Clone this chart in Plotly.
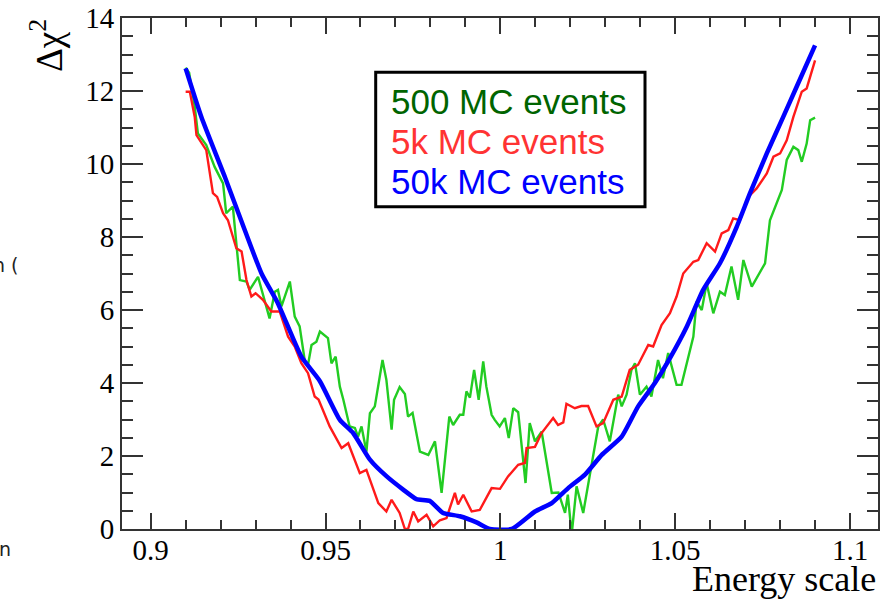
import plotly.graph_objects as go

# ---- data ----
x_500 = [0.910, 0.911, 0.9126, 0.9135, 0.9159, 0.9183, 0.9207, 0.9216, 0.9235, 0.9255,
         0.9274, 0.9283, 0.9307, 0.9321, 0.9340, 0.9355, 0.9364, 0.9374, 0.9398, 0.9412,
         0.9426, 0.9441, 0.9450, 0.9460, 0.9474, 0.9484, 0.9507, 0.9517, 0.9529, 0.9541,
         0.9551, 0.9569, 0.9584, 0.9593, 0.9603, 0.9617, 0.9627, 0.9641, 0.9663, 0.9674,
         0.9689, 0.9696, 0.9712, 0.9727, 0.9736, 0.9749, 0.9770, 0.9794, 0.9813, 0.9832,
         0.9854, 0.9865, 0.9884, 0.9894, 0.9903, 0.9913, 0.9925, 0.9938, 0.9951, 0.9960,
         0.9975, 0.9984, 0.9998, 1.0013, 1.0024, 1.0037, 1.0051, 1.0072, 1.0084, 1.0099,
         1.0118, 1.0147, 1.0166, 1.0185, 1.0193, 1.0204, 1.0218, 1.0237, 1.0261, 1.0280,
         1.0294, 1.0313, 1.0337, 1.0347, 1.0361, 1.0375, 1.0385, 1.0399, 1.0418, 1.0432,
         1.0451, 1.0465, 1.0480, 1.0504, 1.0518, 1.0552, 1.0561, 1.0576, 1.0590, 1.0609,
         1.0628, 1.0642, 1.0661, 1.0680, 1.0695, 1.0719, 1.0757, 1.0771, 1.0805, 1.0819,
         1.0838, 1.0852, 1.0862, 1.0876, 1.0886, 1.0900]
y_500 = [12.64, 12.5, 11.57, 10.84, 10.52, 9.92, 9.47, 8.65, 8.83, 6.82,
         6.78, 6.55, 6.91, 6.41, 5.77, 6.50, 6.55, 6.10, 6.78, 5.82,
         5.55, 4.59, 4.50, 5.04, 5.13, 5.41, 5.23, 4.54, 4.72, 3.90,
         3.54, 2.81, 2.77, 2.53, 2.81, 2.12, 3.17, 3.36, 4.63, 4.09,
         2.72, 3.54, 3.89, 3.70, 3.08, 3.18, 2.12, 2.03, 2.40, 0.99,
         3.08, 2.85, 3.13, 3.13, 3.77, 3.60, 4.36, 3.54, 4.59, 3.90,
         3.13, 2.99, 2.81, 3.04, 2.49, 3.31, 3.20, 1.26, 2.90, 2.40,
         2.67, 0.99, 1.00, 0.44, 0.94, -0.15, 1.17, 0.44, 1.71, 2.81,
         3.00, 2.40, 3.68, 3.36, 3.68, 4.36, 4.54, 3.68, 3.90, 3.63,
         4.63, 4.13, 4.82, 3.95, 3.95, 5.27, 6.23, 6.00, 6.73, 5.91,
         6.50, 6.41, 7.19, 6.28, 7.37, 6.64, 7.28, 8.46, 9.29, 10.11,
         10.47, 10.38, 10.06, 10.56, 11.20, 11.27]

x_5k = [0.910, 0.9112, 0.9126, 0.9131, 0.9159, 0.9178, 0.9190, 0.9207, 0.9221, 0.9245,
        0.9260, 0.9274, 0.9288, 0.9300, 0.9321, 0.9345, 0.9369, 0.9393, 0.9412, 0.9431,
        0.9450, 0.9469, 0.9480, 0.9498, 0.9512, 0.9546, 0.9565, 0.9598, 0.9617, 0.9651,
        0.9674, 0.9689, 0.9712, 0.9727, 0.9736, 0.9751, 0.9765, 0.9789, 0.9808, 0.9827,
        0.9846, 0.9870, 0.9879, 0.9894, 0.9918, 0.9941, 0.9975, 0.9999, 1.0022, 1.0051,
        1.0070, 1.0075, 1.0099, 1.0118, 1.0137, 1.0151, 1.0165, 1.0180, 1.0189, 1.0213,
        1.0232, 1.0251, 1.0275, 1.0294, 1.0323, 1.0347, 1.0370, 1.0394, 1.0423, 1.0437,
        1.0461, 1.0485, 1.0504, 1.0523, 1.0552, 1.0566, 1.0590, 1.0614, 1.0633, 1.0652,
        1.0666, 1.0685, 1.0709, 1.0733, 1.0762, 1.0781, 1.0800, 1.0819, 1.0838, 1.0862,
        1.0876, 1.0886, 1.0900]
y_5k = [11.98, 11.98, 11.29, 10.79, 10.38, 9.20, 9.10, 8.65, 8.46, 7.69,
        7.60, 6.82, 6.37, 6.46, 6.28, 5.96, 5.96, 5.27, 5.00, 4.54,
        4.27, 3.63, 3.55, 3.13, 2.81, 2.22, 2.35, 1.53, 1.62, 0.71,
        0.48, 0.80, 0.44, 0.00, 0.00, 0.48, 0.21, 0.39, 0.07, 0.24,
        0.30, 0.99, 0.67, 0.94, 0.48, 0.52, 1.12, 1.10, 1.44, 1.76,
        1.81, 2.22, 2.25, 2.63, 2.85, 3.04, 2.85, 2.92, 3.43, 3.31,
        3.37, 3.37, 2.81, 2.90, 3.54, 3.63, 4.36, 4.50, 5.04, 5.00,
        5.59, 5.91, 6.37, 7.00, 7.32, 7.37, 7.83, 7.60, 8.10, 8.19,
        8.51, 8.46, 9.10, 9.33, 9.74, 10.20, 10.29, 10.65, 11.29, 11.98,
        12.07, 12.39, 12.84]

x_50k = [0.910, 0.9145, 0.9212, 0.9269, 0.9317, 0.9364, 0.9431, 0.9484, 0.9541, 0.9579,
         0.9627, 0.9675, 0.9722, 0.9760, 0.9798, 0.9836, 0.9884, 0.9932, 0.9970, 1.0033,
         1.0099, 1.0147, 1.0194, 1.0242, 1.0290, 1.0347, 1.0394, 1.0442, 1.0485, 1.0533,
         1.0580, 1.0628, 1.0676, 1.0714, 1.0762, 1.0809, 1.0847, 1.0900]
y_50k = [12.62, 11.29, 9.65, 8.19, 7.00, 6.18, 4.72, 4.05, 2.99, 2.63,
         1.90, 1.44, 1.08, 0.82, 0.77, 0.44, 0.35, 0.18, 0.00, 0.00,
         0.48, 0.71, 1.12, 1.49, 2.03, 2.53, 3.36, 4.00, 4.68, 5.54,
         6.55, 7.28, 8.28, 9.20, 10.29, 11.29, 12.11, 13.25]

series_names = ["500 MC events", "5k MC events", "50k MC events"]
x_tickvals = [0.9, 0.95, 1.0, 1.05, 1.1]
x_ticktext = ["0.9", "0.95", "1", "1.05", "1.1"]
y_tickvals = [0, 2, 4, 6, 8, 10, 12, 14]
y_ticktext = ["0", "2", "4", "6", "8", "10", "12", "14"]
x_title = "Energy scale"
y_title = "Δχ<sup>2</sup>"

# ---- layout geometry ----
W, H = 891, 600
L, R, T, B = 122, 13, 18, 71
pw, ph = W - L - R, H - T - B


def px(xp):
    return (xp - L) / pw


def py(yp):
    return (H - B - yp) / ph


fig = go.Figure()
fig.add_trace(go.Scatter(x=x_500, y=y_500, mode="lines", name=series_names[0],
                         line=dict(color="#22cc22", width=2.4)))
fig.add_trace(go.Scatter(x=x_5k, y=y_5k, mode="lines", name=series_names[1],
                         line=dict(color="#ff1a1a", width=2.4)))
fig.add_trace(go.Scatter(x=x_50k, y=y_50k, mode="lines", name=series_names[2],
                         line=dict(color="#0000ff", width=4.5, shape="spline", smoothing=0.5)))

axis_color = "#333333"
serif = "Liberation Serif, Times New Roman, serif"
tickfont = dict(family=serif, size=29, color="black")

fig.update_xaxes(range=[0.8918, 1.108], showline=True, linecolor=axis_color, linewidth=2,
                 mirror="allticks", ticks="inside", ticklen=16, tickwidth=1.5,
                 tickcolor=axis_color, tickvals=x_tickvals, ticktext=x_ticktext,
                 tickfont=tickfont, showgrid=False, zeroline=False, automargin=False,
                 ticklabelstandoff=-6,
                 minor=dict(dtick=0.01, tick0=0.9, ticks="inside", ticklen=9,
                            tickwidth=1.5, tickcolor=axis_color, showgrid=False))
fig.update_yaxes(range=[0, 14], showline=True, linecolor=axis_color, linewidth=2,
                 mirror="allticks", ticks="inside", ticklen=21, tickwidth=1.5,
                 tickcolor=axis_color, tickvals=y_tickvals, ticktext=y_ticktext,
                 tickfont=tickfont, showgrid=False, zeroline=False, automargin=False,
                 minor=dict(dtick=0.5, tick0=0, ticks="inside", ticklen=11,
                            tickwidth=1.5, tickcolor=axis_color, showgrid=False))

legend_colors = ["#006400", "#ff3333", "#0000ff"]
legend_y = [101.7, 141.7, 181.7]
annotations = []
for name, c, yy in zip(series_names, legend_colors, legend_y):
    annotations.append(dict(x=px(389), y=py(yy), xref="paper", yref="paper",
                            text=name, showarrow=False, xanchor="left", yanchor="middle",
                            font=dict(family="Liberation Sans", size=35, color=c)))
annotations.append(dict(x=1.0, y=py(579), xref="paper", yref="paper", text=x_title,
                        showarrow=False, xanchor="right", yanchor="middle",
                        font=dict(family=serif, size=36, color="black")))
annotations.append(dict(x=px(46), y=py(46), xref="paper", yref="paper", text=y_title,
                        showarrow=False, xanchor="center", yanchor="middle", textangle=-90,
                        font=dict(family=serif, size=37, color="black")))
annotations.append(dict(x=px(21), y=py(265), xref="paper", yref="paper", text="n (",
                        showarrow=False, xanchor="right", yanchor="middle",
                        font=dict(family="DejaVu Sans", size=19, color="#222222")))
annotations.append(dict(x=px(13), y=py(549), xref="paper", yref="paper", text="n",
                        showarrow=False, xanchor="right", yanchor="middle",
                        font=dict(family="DejaVu Sans", size=19, color="#222222")))

fig.update_layout(
    width=W, height=H, margin=dict(l=L, r=R, t=T, b=B, pad=0, autoexpand=False),
    paper_bgcolor="white", plot_bgcolor="white", showlegend=False,
    font=dict(family=serif),
    annotations=annotations,
    shapes=[dict(type="rect", xref="paper", yref="paper",
                 x0=px(375.7), x1=px(645), y0=py(206.7), y1=py(72.3),
                 line=dict(color="black", width=3), fillcolor="white", layer="above")],
)
fig.write_html("out.html")
